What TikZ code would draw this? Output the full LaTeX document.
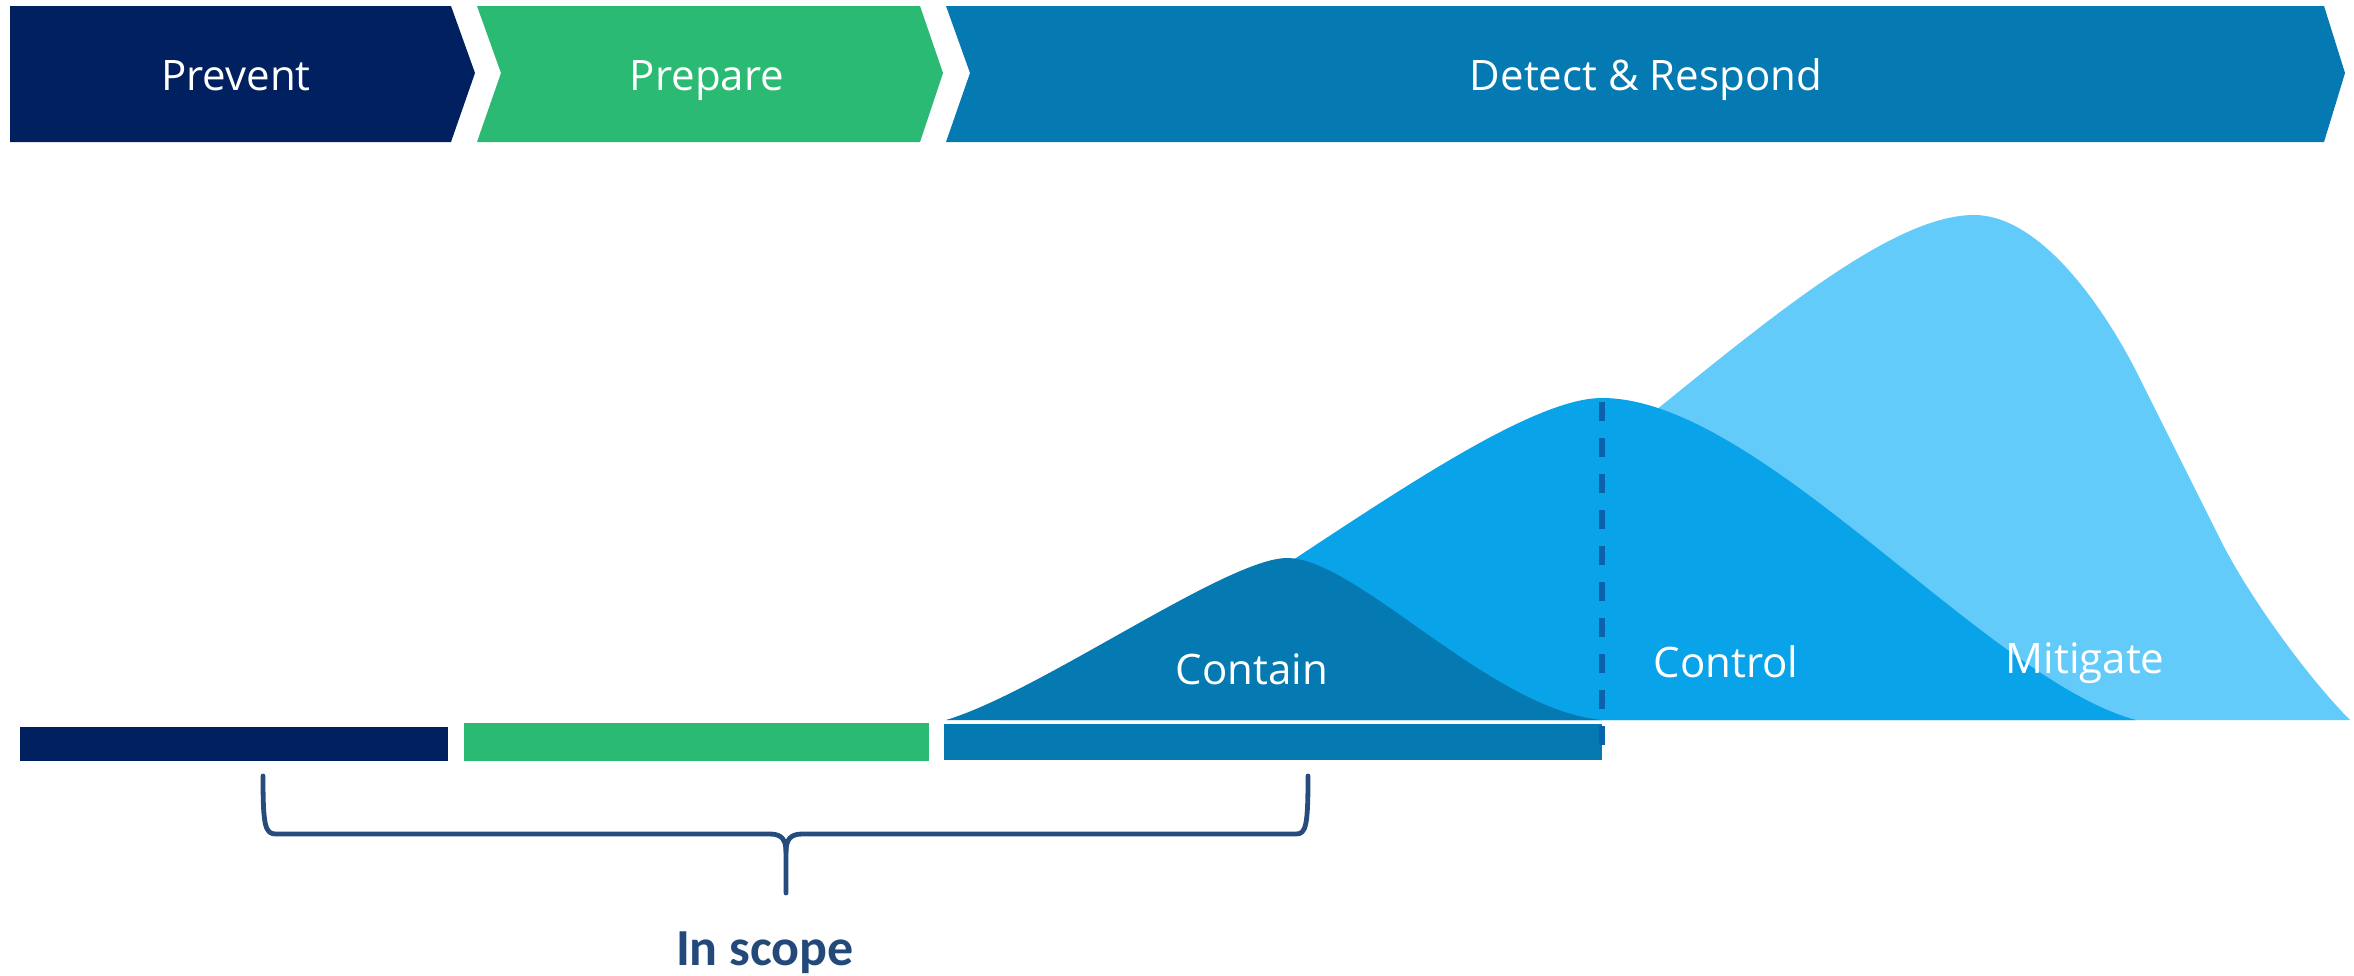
\documentclass[tikz,border=0pt]{standalone}
\usepackage{fontspec}
\setmainfont{Open Sans}
\newfontfamily\calibfont{Carlito}
\definecolor{cPrevent}{HTML}{002060}
\definecolor{cPrepare}{HTML}{2BBA74}
\definecolor{cDetect}{HTML}{0579B1}
\definecolor{cControl}{HTML}{08A3E8}
\definecolor{cMitigate}{HTML}{63CBFA}
\definecolor{cDash}{HTML}{0A62AC}
\definecolor{cBrace}{HTML}{264B7D}
\definecolor{cScope}{HTML}{22497A}
\begin{document}
\begin{tikzpicture}[x=0.5pt,y=-0.5pt,
  lbl/.style={text=white, font=\fontsize{21}{25}\selectfont, anchor=base, inner sep=0pt},
  bracepath/.style={draw=cBrace, line width=2.4pt, line cap=round, line join=round},
  dashline/.style={draw=cDash, line width=2.6pt, dash pattern=on 9.5pt off 8.5pt}]
\useasboundingbox (0,0) rectangle (2354,975);
\fill[white] (0,0) rectangle (2354,975);

% chevrons
\fill[cPrevent] (10,6) -- (451,6) -- (475,73) -- (451,142) -- (10,142) -- cycle;
\fill[cPrepare] (477,6) -- (920,6) -- (943,73) -- (920,142) -- (477,142) -- (501,73) -- cycle;
\fill[cDetect] (946,6) -- (2324,6) -- (2345,73) -- (2324,142) -- (946,142) -- (970,73) -- cycle;
\node[lbl] (tPrevent) at (236,90) {Prevent};
\node[lbl] (tPrepare) at (707,90) {Prepare};
\node[lbl] (tDetect) at (1646,90) {Detect \& Respond};

% Mitigate curve
\fill[cMitigate] (1560,720) -- (1560,486)
  .. controls (1710,372) and (1874,215) .. (1974,215)
  .. controls (2034,215) and (2094,291) .. (2134,367)
  -- (2220,539)
  .. controls (2250,599) and (2310,680) .. (2350,720) -- cycle;
% Control curve
\fill[cControl] (1000,720)
  .. controls (1150,690) and (1480,398) .. (1602,398)
  .. controls (1760,398) and (1986,680) .. (2136,720) -- cycle;
% Contain curve
\fill[cDetect] (946,720)
  .. controls (1040,692) and (1227,558) .. (1287,558)
  .. controls (1357,558) and (1490,710) .. (1602,720) -- cycle;

\node[lbl] (tContain) at (1252,684) {Contain};
\node[lbl] (tControl) at (1726,677) {Control};
\node[lbl] (tMitigate) at (2085,673) {Mitigate};

% bars
\fill[cPrevent] (20,727) rectangle (448,761);
\fill[cPrepare] (464,723) rectangle (929,761);
\fill[cDetect] (944,724) rectangle (1602,760);

% dashed divider
\coordinate (dTop) at (1602,402);
\coordinate (dBot) at (1602,746);
\draw[dashline] (dTop) -- (dBot);

% brace
\coordinate (bL) at (263,776);
\coordinate (bR) at (1308,776);
\coordinate (bM) at (786,852);
\coordinate (bTip) at (786,893);
\draw[bracepath] (bL) .. controls (263,826) and (265,834) .. (276,834) -- (770,834)
  .. controls (782,834) and (786,840) .. (bM) -- (bTip);
\draw[bracepath] (bR) .. controls (1308,826) and (1306,834) .. (1296,834) -- (802,834)
  .. controls (790,834) and (786,840) .. (bM);

\node[text=cScope, font=\calibfont\bfseries\fontsize{26}{30}\selectfont, anchor=base, inner sep=0pt] (tScope) at (765,965) {In scope};
\end{tikzpicture}
\end{document}
